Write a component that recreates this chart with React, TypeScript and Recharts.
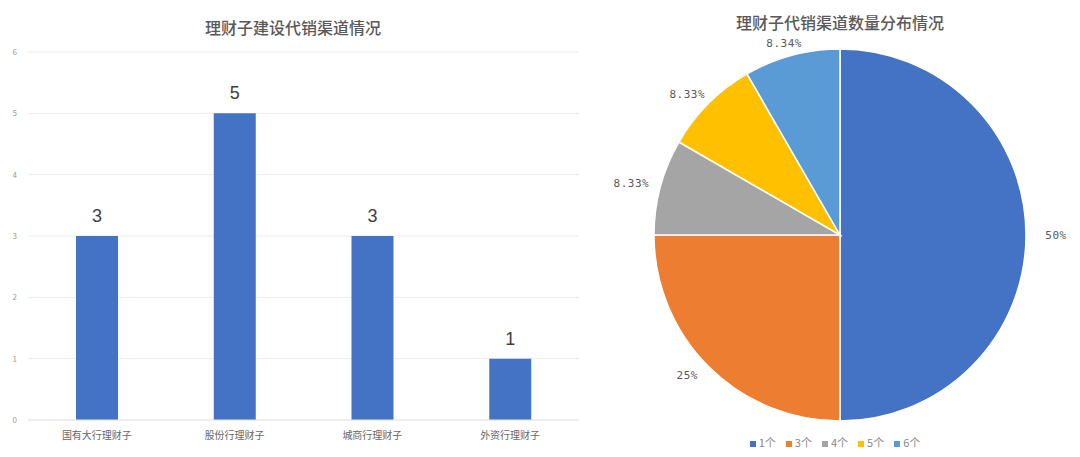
import { Bar, BarChart, CartesianGrid, Cell, LabelList, Legend, Pie, PieChart, XAxis, YAxis } from "recharts";

const bankTypes = ["国有大行理财子", "股份行理财子", "城商行理财子", "外资行理财子"];
const channelCounts = [3, 5, 3, 1];
const yTicks = [0, 1, 2, 3, 4, 5, 6];

const channelBuckets = ["1个", "3个", "4个", "5个", "6个"];
const bucketCounts = [6, 3, 1, 1, 1];
const bucketLabels = ["50%", "25%", "8.33%", "8.33%", "8.34%"];
const bucketColors = ["#4472C4", "#ED7D31", "#A5A5A5", "#FFC000", "#5B9BD5"];

const barData = bankTypes.map((name, i) => ({ name, value: channelCounts[i] }));
const pieData = channelBuckets.map((name, i) => ({ name, value: bucketCounts[i], label: bucketLabels[i] }));

const RAD = Math.PI / 180;

// labels sit on a slightly flattened ring outside the pie
function PieLabel(props: any) {
  const { cx, cy, midAngle, outerRadius, index } = props;
  const x = cx + (outerRadius + 30) * Math.cos(-midAngle * RAD);
  const y = cy + (outerRadius + 12) * Math.sin(-midAngle * RAD);
  return (
    <text x={x} y={y} textAnchor="middle" dominantBaseline="central" fontSize={11} fill="#595959"
      fontFamily="'DejaVu Sans Mono', monospace" letterSpacing={0.5}>
      {bucketLabels[index]}
    </text>
  );
}

const titleStyle: React.CSSProperties = {
  position: "absolute",
  fontFamily: "'Noto Sans CJK SC', sans-serif",
  fontSize: 16,
  fontWeight: 500,
  color: "#595959",
  textAlign: "center",
};

export default function App() {
  return (
    <div style={{ position: "relative", width: 1080, height: 457, background: "#fff", fontFamily: "'Noto Sans CJK SC', sans-serif" }}>
      <style>{"body{margin:0}"}</style>
      <div style={{ ...titleStyle, left: 0, width: 586, top: 15 }}>理财子建设代销渠道情况</div>
      <div style={{ ...titleStyle, left: 600, width: 480, top: 10 }}>理财子代销渠道数量分布情况</div>

      <div style={{ position: "absolute", left: 0, top: 0 }}>
        <BarChart width={600} height={457} data={barData} margin={{ top: 52, right: 21, bottom: 7, left: 0 }} barSize={42}>
          <CartesianGrid vertical={false} stroke="#ebebeb" />
          <XAxis dataKey="name" axisLine={{ stroke: "#e6e6e6" }} tickLine={false} height={30}
            tick={{ fontSize: 10, fill: "#666" }} tickMargin={6} interval={0} />
          <YAxis width={28} domain={[0, 6]} ticks={yTicks} axisLine={false} tickLine={false}
            tick={{ fontSize: 8, fill: "#999" }} tickMargin={5} />
          <Bar dataKey="value" fill="#4472C4" isAnimationActive={false}>
            <LabelList dataKey="value" position="top" offset={14} fontSize={18} fill="#404040"
              fontFamily="'Liberation Sans', Arial, sans-serif" />
          </Bar>
        </BarChart>
      </div>

      <div style={{ position: "absolute", left: 600, top: 0 }}>
        <PieChart width={480} height={457}>
          <Pie data={pieData} dataKey="value" nameKey="name" cx={235} cy={230} outerRadius={186}
            startAngle={90} endAngle={-270} stroke="#fff" strokeWidth={1.5} label={PieLabel} labelLine={false}
            isAnimationActive={false}>
            {pieData.map((d, i) => (
              <Cell key={d.name} fill={bucketColors[i]} />
            ))}
          </Pie>
          <Legend verticalAlign="bottom" align="center" iconType="square" iconSize={6}
            wrapperStyle={{ fontSize: 11, color: "#888", bottom: 7 }}
            formatter={(v: string) => <span style={{ color: "#888", marginLeft: -1 }}>{v}</span>} />
        </PieChart>
      </div>
    </div>
  );
}
